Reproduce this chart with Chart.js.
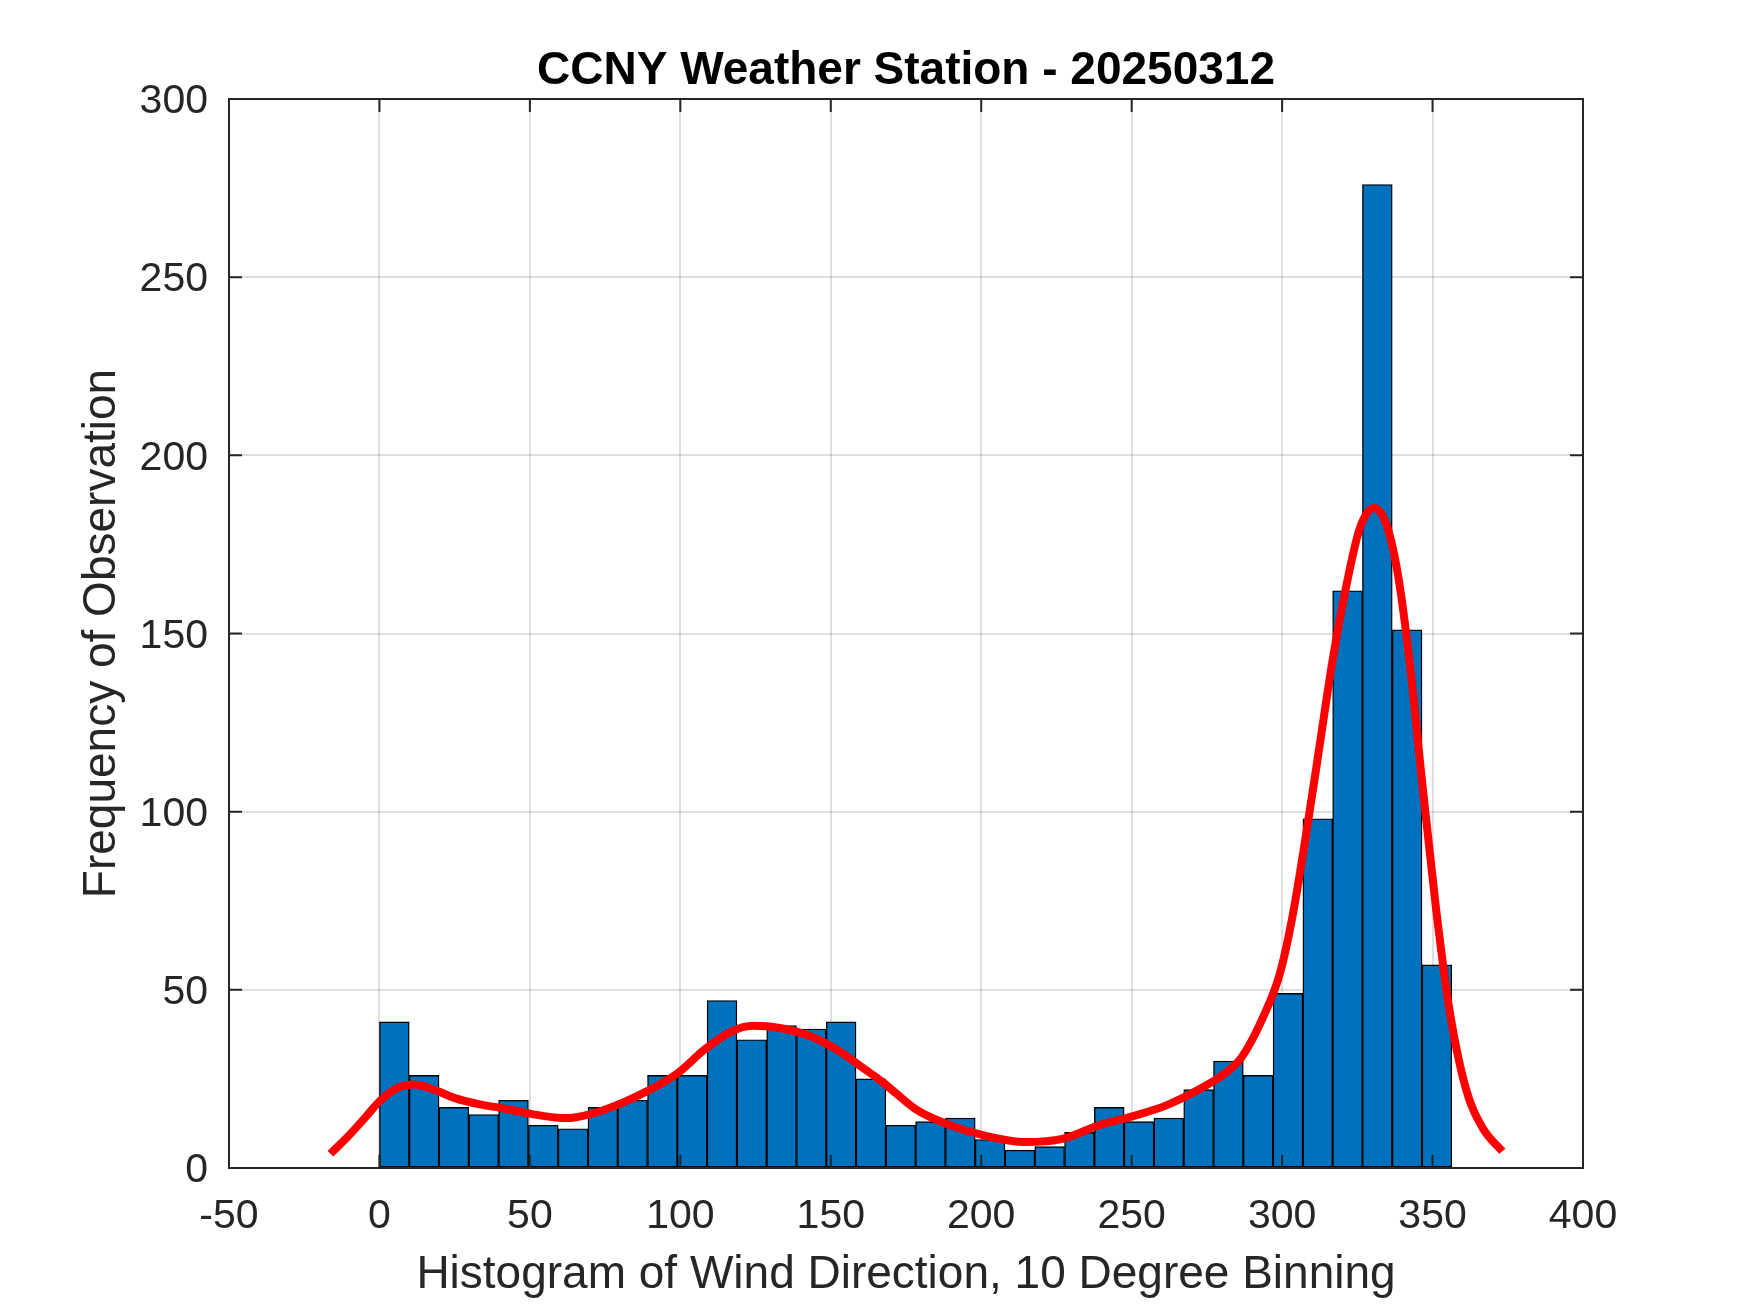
<!DOCTYPE html>
<html>
<head>
<meta charset="utf-8">
<title>CCNY Weather Station - 20250312</title>
<script src="https://cdn.jsdelivr.net/npm/chart.js@4/dist/chart.umd.min.js"></script>
<style>
    html, body { margin: 0; padding: 0; background: #fff; }
    #chart { display: block; }
</style>
</head>
<body>
<canvas id="chart" width="1750" height="1313"></canvas>
<script>
// ==========================================
// WIND DIRECTION HISTOGRAM - DATA
// ==========================================

// histogram: 36 bins from 0 to ~356 degrees
const binStart = 0;
const binWidth = 9.9;
const binCounts = [41, 26, 17, 15, 19, 12, 11, 17, 19, 26, 26, 47, 36, 40, 39, 41, 25, 12,
                   13, 14, 8, 5, 6, 10, 17, 13, 14, 22, 30, 26, 49, 98, 162, 276, 151, 57];

// smoothed density curve
const curveX = [-16.3, -10.4, -4.4, 0, 5.9, 11.5, 17.8, 25.1, 32.5, 41.4, 50.3, 62.1, 69.5, 79.9,
                88.8, 99.1, 108, 116.9, 124.3, 133.1, 143.5, 152.4, 160, 167.4, 171.6, 178.4,
                189.4, 200.6, 214.9, 227, 239.2, 250.2, 261.3, 272.3, 281.1, 286.5, 293.5, 299.2,
                303.6, 308, 312.4, 316.8, 321.3, 325.7, 330.4, 334.5, 338.4, 342.3, 346.7, 351.1,
                355.5, 361, 366.6, 373.2];
const curveY = [4, 8.9, 14.5, 18.7, 22.4, 23.4, 22.1, 19.6, 18, 16.7, 15.2, 14, 15, 18,
                21.5, 26.6, 33.2, 38.3, 39.9, 39.3, 36.9, 33, 28.5, 24, 21, 16.4,
                12.1, 9.2, 7.3, 8.2, 12, 14.5, 17.5, 22, 26.6, 31, 42, 54.4,
                71.3, 93.8, 118.2, 142.6, 163.2, 179.2, 185.2, 181, 167, 142.6, 107, 73.2,
                45, 22.5, 11.3, 4.7];

const xTicks = [-50, 0, 50, 100, 150, 200, 250, 300, 350, 400];
const yTicks = [0, 50, 100, 150, 200, 250, 300];

const titleText = 'CCNY Weather Station - 20250312';
const xLabel = 'Histogram of Wind Direction, 10 Degree Binning';
const yLabel = 'Frequency of Observation';

// ==========================================
// LAYOUT / STYLE
// ==========================================
const FONT = '"Liberation Sans", Arial, Helvetica, sans-serif';
const TEXT_COLOR = '#262626';
const TICK_LEN = 13;
const TITLE_Y = 71;
const PLOT = { left: 229, top: 99, right: 1583, bottom: 1168 };
const W = 1750, H = 1313;

Chart.defaults.font.family = FONT;
Chart.defaults.color = TEXT_COLOR;

// box round the axes, with MATLAB style inward ticks on all four sides
const axesBox = {
    id: 'axesBox',
    afterDatasetsDraw(chart) {
        const { ctx, chartArea: a, scales: { x, y } } = chart;
        ctx.save();
        ctx.strokeStyle = TEXT_COLOR;
        ctx.lineWidth = 2;
        ctx.beginPath();
        x.ticks.forEach(t => {
            const px = x.getPixelForValue(t.value);
            ctx.moveTo(px, a.bottom); ctx.lineTo(px, a.bottom - TICK_LEN);
            ctx.moveTo(px, a.top); ctx.lineTo(px, a.top + TICK_LEN);
        });
        y.ticks.forEach(t => {
            const py = y.getPixelForValue(t.value);
            ctx.moveTo(a.left, py); ctx.lineTo(a.left + TICK_LEN, py);
            ctx.moveTo(a.right, py); ctx.lineTo(a.right - TICK_LEN, py);
        });
        ctx.stroke();
        ctx.strokeRect(a.left, a.top, a.right - a.left, a.bottom - a.top);
        ctx.restore();
    }
};

// title centred over the axes, not over the whole canvas
const plotTitle = {
    id: 'plotTitle',
    afterDraw(chart) {
        const { ctx, chartArea: a } = chart;
        ctx.save();
        ctx.font = 'bold 46px ' + FONT;
        ctx.fillStyle = '#000000';
        ctx.textAlign = 'center';
        ctx.textBaseline = 'middle';
        ctx.fillText(titleText, (a.left + a.right) / 2, TITLE_Y);
        ctx.restore();
    }
};

const bars = binCounts.map((c, i) => ({ x: binStart + (i + 0.5) * binWidth, y: c }));
const curve = curveX.map((v, i) => ({ x: v, y: curveY[i] }));

new Chart(document.getElementById('chart'), {
    type: 'bar',
    data: {
        datasets: [
            {
                type: 'line',
                data: curve,
                borderColor: '#FF0000',
                borderWidth: 8,
                pointRadius: 0,
                fill: false,
                cubicInterpolationMode: 'monotone',
                order: 0
            },
            {
                type: 'bar',
                data: bars,
                backgroundColor: '#0072BD',
                borderColor: '#000000',
                borderWidth: 1.4,
                borderSkipped: false,
                barPercentage: 1,
                categoryPercentage: 1,
                order: 1
            }
        ]
    },
    options: {
        responsive: false,
        devicePixelRatio: 1,
        animation: false,
        layout: {
            padding: { left: 0, top: PLOT.top, right: W - PLOT.right, bottom: 0 }
        },
        plugins: {
            legend: { display: false },
            tooltip: { enabled: false },
            title: { display: false }
        },
        scales: {
            x: {
                type: 'linear',
                min: xTicks[0],
                max: xTicks[xTicks.length - 1],
                offset: false,
                afterBuildTicks: s => { s.ticks = xTicks.map(v => ({ value: v })); },
                afterFit: s => { s.height = H - PLOT.bottom; },
                grid: { color: 'rgba(38,38,38,0.15)', lineWidth: 2, drawTicks: false, offset: false },
                border: { display: false },
                ticks: { font: { size: 41 }, padding: 24, maxRotation: 0, autoSkip: false },
                title: {
                    display: true,
                    text: xLabel,
                    font: { size: 46 },
                    padding: { top: 0, bottom: 10 }
                }
            },
            y: {
                type: 'linear',
                min: yTicks[0],
                max: yTicks[yTicks.length - 1],
                afterBuildTicks: s => { s.ticks = yTicks.map(v => ({ value: v })); },
                afterFit: s => { s.width = PLOT.left; },
                grid: { color: 'rgba(38,38,38,0.15)', lineWidth: 2, drawTicks: false },
                border: { display: false },
                ticks: { font: { size: 41 }, padding: 21, labelOffset: 3 },
                title: {
                    display: true,
                    text: yLabel,
                    font: { size: 46 },
                    padding: { top: 75, bottom: 0 }
                }
            }
        }
    },
    plugins: [axesBox, plotTitle]
});
</script>
</body>
</html>
